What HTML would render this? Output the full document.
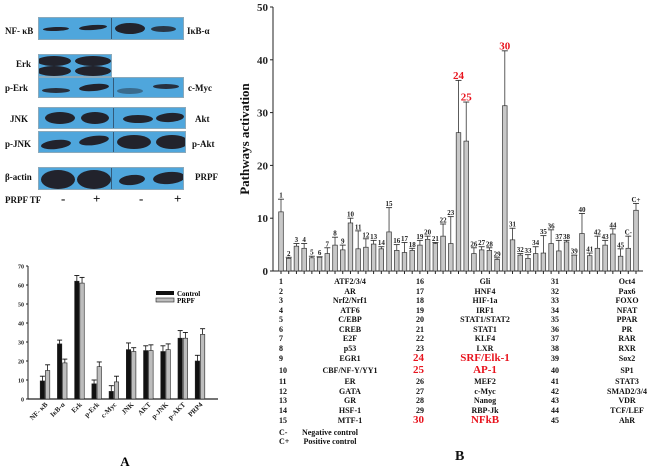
<!DOCTYPE html>
<html><head><meta charset="utf-8"><style>
body{margin:0;background:#fff;width:650px;height:468px;overflow:hidden;position:relative;font-family:"Liberation Serif",serif;font-weight:bold}
.t{position:absolute;font-size:8px;color:#111;white-space:nowrap}
.blot{position:absolute;background:#4fa6dc;border:1px solid #8aa9bb;box-sizing:border-box;overflow:hidden}
.band{position:absolute;background:#22232c;border-radius:50%}
.div{position:absolute;top:0;bottom:0;width:1px;background:#335a7a}
.wl{position:absolute;font-size:9px;color:#111}
</style></head><body>
<div id="wb"></div>
<svg id="chartA" width="230" height="468" style="position:absolute;left:0;top:0"></svg>
<svg id="chartB" width="650" height="468" style="position:absolute;left:0;top:0;pointer-events:none"></svg>
<div id="table"></div>
<script>
// ---------- Chart B data ----------
const bCats=["1","2","3","4","5","6","7","8","9","10","11","12","13","14","15","16","17","18","19","20","21","22","23","24","25","26","27","28","29","30","31","32","33","34","35","36","37","38","39","40","41","42","43","44","45","C-","C+"];
const bVals=[11.2,2.4,4.7,4.3,2.5,2.6,3.3,4.9,4.0,9.1,4.2,4.5,5.1,4.2,7.4,3.9,3.5,3.9,4.9,6.0,5.2,6.6,5.2,26.2,24.6,3.3,4.0,3.9,2.2,31.3,5.9,3.0,2.4,3.3,3.4,5.2,3.8,5.5,3.0,7.1,2.9,4.3,4.9,7.0,2.8,4.3,11.5];
const bErrs=[13.6,2.6,5.2,5.2,2.8,2.7,4.4,6.4,4.9,10,7.6,6.1,5.8,4.6,12,5.0,5.4,4.3,5.8,6.6,5.4,8.9,10.3,36.1,32,4.4,4.6,4.4,2.5,41.7,8.1,3.3,3.1,4.6,6.7,7.8,5.8,5.8,3.0,10.9,3.4,6.6,5.8,8.0,4.2,6.6,12.8];
const bTicks=[0,10,20,30,40,50];
const redCats=["24","25","30"];
// ---------- Chart A data ----------
const aCats=["NF- κB","IκB-α","Erk","p-Erk","c-Myc","JNK","AKT","p-JNK","p-AKT","PRP4"];
const aCtrl=[9.5,29,62,8,4,26,25.5,25,32,20];
const aCtrlErr=[12,31,65,10,7,29.5,28,28,36,23];
const aPrpf=[15,19,61,17,9,25,25.5,26,32,34];
const aPrpfErr=[18,21,64,19.5,12,27,28.5,29,35,37];
const aTicks=[0,10,20,30,40,50,60,70];
// ---------- Table data ----------
const tNums1=["1","2","3","4","5","6","7","8","9","10","11","12","13","14","15","C-","C+"];
const tNames1=["ATF2/3/4","AR","Nrf2/Nrf1","ATF6","C/EBP","CREB","E2F","p53","EGR1","CBF/NF-Y/YY1","ER","GATA","GR","HSF-1","MTF-1","Negative control","Positive control"];
const tNames2=["Gli","HNF4","HIF-1a","IRF1","STAT1/STAT2","STAT1","KLF4","LXR","SRF/Elk-1","AP-1","MEF2","c-Myc","Nanog","RBP-Jk","NFkB"];
const tNames3=["Oct4","Pax6","FOXO","NFAT","PPAR","PR","RAR","RXR","Sox2","SP1","STAT3","SMAD2/3/4","VDR","TCF/LEF","AhR"];

const NS="http://www.w3.org/2000/svg";
function mk(p,tag,a,txt){const e=document.createElementNS(NS,tag);for(const k in a)e.setAttribute(k,a[k]);if(txt!==undefined)e.textContent=txt;p.appendChild(e);return e;}

// ---- Chart B ----
(function(){
const s=document.getElementById('chartB');
const x0=273,x1=643,yB=271,yT=7,max=50;
const y=v=>yB-(v/max)*(yB-yT);
const xc=i=>281+i*(636-281)/(bCats.length-1);
let ax=mk(s,'line',{x1:x0,y1:yT,x2:x0,y2:yB,stroke:'#222','stroke-width':1});

let xa=mk(s,'line',{x1:x0,y1:yB,x2:x1,y2:yB,stroke:'#222','stroke-width':1});

bTicks.forEach(t=>{
 mk(s,'line',{x1:x0-3,y1:y(t),x2:x0,y2:y(t),stroke:'#222'});
 let l=mk(s,'text',{x:x0-5,y:y(t)+4,'text-anchor':'end','font-size':11,'font-family':'Liberation Serif','font-weight':'bold',fill:'#222'},t);
 
});
let tt=mk(s,'text',{x:249,y:139,transform:'rotate(-90 249 139)','text-anchor':'middle','font-size':13,'font-family':'Liberation Serif','font-weight':'bold',fill:'#111'},'Pathways activation');

bCats.forEach((c,i)=>{
 const cx=xc(i),w=4.6;
 mk(s,'line',{x1:cx,y1:yB,x2:cx,y2:yB+3,stroke:'#222'});
 mk(s,'line',{x1:cx,y1:y(bVals[i]),x2:cx,y2:y(bErrs[i]),stroke:'#333','stroke-width':0.8});
 mk(s,'line',{x1:cx-3,y1:y(bErrs[i]),x2:cx+3,y2:y(bErrs[i]),stroke:'#333','stroke-width':0.9});
 let r=mk(s,'rect',{x:cx-w/2,y:y(bVals[i]),width:w,height:yB-y(bVals[i]),fill:'#c8c8c8',stroke:'#333','stroke-width':0.7});
 
 const red=redCats.includes(c);
 let l=mk(s,'text',{x:cx,y:y(bErrs[i])-1.5,'text-anchor':'middle','font-size':red?11:7,'font-family':'Liberation Serif','font-weight':'bold',fill:red?'#e8141e':'#222'},c);
 
});
})();

// ---- Chart A ----
(function(){
const s=document.getElementById('chartA');
const x0=28,x1=218,yB=399,max=70,yT=266;
const y=v=>yB-(v/max)*(yB-yT);
const gc=i=>45+i*(200-45)/(aCats.length-1);
let ax=mk(s,'line',{x1:x0,y1:yT,x2:x0,y2:yB,stroke:'#222','stroke-width':1});

let xa=mk(s,'line',{x1:x0,y1:yB,x2:x1,y2:yB,stroke:'#222','stroke-width':1.2});

aTicks.forEach(t=>{
 mk(s,'line',{x1:x0-2,y1:y(t),x2:x0,y2:y(t),stroke:'#222'});
 let l=mk(s,'text',{x:x0-4,y:y(t)+2.5,'text-anchor':'end','font-size':6,'font-family':'Liberation Serif','font-weight':'bold',fill:'#222'},t);
 
});
function bar(cx,v,e,fill,name){
 mk(s,'line',{x1:cx,y1:y(v),x2:cx,y2:y(e),stroke:'#111','stroke-width':0.8});
 mk(s,'line',{x1:cx-2.5,y1:y(e),x2:cx+2.5,y2:y(e),stroke:'#111','stroke-width':0.9});
 let r=mk(s,'rect',{x:cx-2.2,y:y(v),width:4.4,height:yB-y(v),fill:fill,stroke:'#222','stroke-width':0.6});
 
}
aCats.forEach((c,i)=>{
 const cx=gc(i);
 bar(cx-2.6,aCtrl[i],aCtrlErr[i],'#111','bar-control-'+i);
 bar(cx+2.6,aPrpf[i],aPrpfErr[i],'#bdbdbd','bar-prpf-'+i);
 let l=mk(s,'text',{x:cx+3,y:405,transform:`rotate(-45 ${cx+3} 405)`,'text-anchor':'end','font-size':7,'font-family':'Liberation Serif','font-weight':'bold',fill:'#222'},c);
 
});
let g=mk(s,'g',{});
mk(g,'rect',{x:156,y:291,width:18,height:4,fill:'#111'});
mk(g,'text',{x:177,y:296,'font-size':7,'font-family':'Liberation Serif','font-weight':'bold'},'Control');
mk(g,'rect',{x:156,y:298,width:18,height:4,fill:'#bdbdbd',stroke:'#222','stroke-width':0.6});
mk(g,'text',{x:177,y:303,'font-size':7,'font-family':'Liberation Serif','font-weight':'bold'},'PRPF');
let A=mk(s,'text',{x:125,y:466,'text-anchor':'middle','font-size':13,'font-family':'Liberation Serif','font-weight':'bold'},'A');

})();

// ---- Table ----
(function(){
const t=document.getElementById('table');
const rowsY=[282,291.5,301,310.5,320,329.5,339,348.5,359,371,382,391.5,401,410.5,420.5,433,442];
function cell(x,yy,txt,center,red,name){
 const d=document.createElement('div');d.className='t';d.textContent=txt;
 d.style.top=(yy-5)+'px';
 if(center){d.style.left=x+'px';d.style.transform='translateX(-50%)';}else{d.style.left=x+'px';}
 if(red){d.style.color='#e8141e';d.style.fontSize='11px';d.style.top=(yy-7)+'px';}
 
 
 t.appendChild(d);
}
tNums1.forEach((n,i)=>{cell(279,rowsY[i],n,false,false,'table-number');cell(i<15?350:330,rowsY[i],tNames1[i],true,false,'table-name');});
tNames2.forEach((n,i)=>{const red=(i==8||i==9||i==14);cell(red?413:416,rowsY[i],String(16+i),false,red,'table-number');cell(485,rowsY[i],n,true,red,'table-name');});
tNames3.forEach((n,i)=>{cell(551,rowsY[i],String(31+i),false,false,'table-number');cell(627,rowsY[i],n,true,false,'table-name');});
const B=document.createElement('div');B.className='t';B.textContent='B';B.style.left='455px';B.style.top='449px';B.style.fontSize='14px';


t.appendChild(B);
})();

// ---- Western blot ----
(function(){
const w=document.getElementById('wb');
function blot(x,y,wd,h,dv,name){const d=document.createElement('div');d.className='blot';Object.assign(d.style,{left:x+'px',top:y+'px',width:wd+'px',height:h+'px'});
 
 
 if(dv){const v=document.createElement('div');v.className='div';v.style.left=dv+'px';d.appendChild(v);}w.appendChild(d);return d;}
function band(p,x,y,wd,h,op,rot){const b=document.createElement('div');b.className='band';Object.assign(b.style,{left:x+'px',top:y+'px',width:wd+'px',height:h+'px',opacity:op||1,transform:'rotate('+(rot||0)+'deg)'});p.appendChild(b);}
function lab(x,y,txt,fs){const l=document.createElement('div');l.className='wl';l.textContent=txt;l.style.left=x+'px';l.style.top=(y-6)+'px';if(fs){l.style.fontSize=fs+'px';l.style.top=(y-9)+'px';}
 
 
 w.appendChild(l);}
let b1=blot(38,17,146,23,72,'blot-nfkb-ikba');band(b1,4,9,26,4,1,-2);band(b1,40,7,28,5,1,-4);band(b1,76,5,30,11);band(b1,112,8,25,6,.85);
let b2=blot(38,54,74,23,0,'blot-erk');band(b2,-2,1,34,10);band(b2,-2,11,34,10);band(b2,36,1,36,10);band(b2,36,11,36,10);
let b3=blot(38,77,146,21,74,'blot-perk-cmyc');band(b3,3,10,28,5,.9);band(b3,40,6,30,7,1,-5);band(b3,78,10,26,6,.45);band(b3,114,6,26,5,.9);
let b4=blot(38,107,148,22,74,'blot-jnk-akt');band(b4,6,4,30,12);band(b4,42,4,28,12);band(b4,84,7,30,8);band(b4,117,5,28,9,1,-4);
let b5=blot(38,131,148,22,74,'blot-pjnk-pakt');band(b5,2,8,30,9,1,-6);band(b5,40,4,30,9,1,-8);band(b5,78,3,34,14);band(b5,117,3,32,14);
let b6=blot(38,167,146,23,72,'blot-actin-prpf');band(b6,2,2,34,19);band(b6,38,2,34,19);band(b6,80,7,26,10,1,-6);band(b6,114,4,32,12,1,-5);
lab(5,32,'NF- κB');lab(187,32,'IκB-α');lab(16,65,'Erk');lab(5,89,'p-Erk');lab(188,89,'c-Myc');
lab(10,120,'JNK');lab(195,120,'Akt');lab(5,145,'p-JNK');lab(192,145,'p-Akt');lab(5,178,'β-actin');lab(195,178,'PRPF');
lab(5,201,'PRPF TF');lab(61,200,'-',13);lab(93,200,'+',13);lab(139,200,'-',13);lab(174,200,'+',13);
})();
</script>
</body></html>
